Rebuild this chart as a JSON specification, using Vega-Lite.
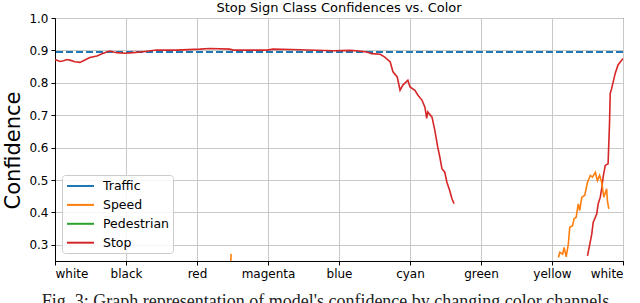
{
  "$schema": "https://vega.github.io/schema/vega-lite/v6.json",
  "width": 568,
  "height": 243,
  "autosize": {"type": "none"},
  "padding": {"left": 55, "top": 18, "right": 17, "bottom": 42},
  "background": "white",
  "title": {"text": "Stop Sign Class Confidences vs. Color", "font": "DejaVu Sans", "fontSize": 13, "fontWeight": "normal", "color": "black", "offset": -13, "baseline": "alphabetic", "frame": "group"},
  "config": {
    "view": {"stroke": "black", "strokeWidth": 1},
    "axis": {"labelFont": "DejaVu Sans", "labelFontSize": 12, "labelColor": "black", "tickColor": "black", "domainColor": "black", "tickSize": 4, "labelPadding": 3, "gridColor": "#c8c8c8", "gridWidth": 1, "labelOverlap": false},
    "legend": {"orient": "none", "legendX": 7, "legendY": 157, "fillColor": "rgba(255,255,255,0.85)", "strokeColor": "#cccccc", "cornerRadius": 3, "padding": 3, "symbolType": "M-2,0H2", "symbolSize": 182, "symbolStrokeWidth": 2, "symbolOffset": 7.5, "labelFont": "DejaVu Sans", "labelFontSize": 12.5, "labelColor": "black", "labelOffset": 14.5, "rowPadding": 3.9}
  },
  "layer": [
    {
      "data": {"values": [{"series": "Traffic", "value": 0.895}]},
      "mark": {"type": "rule", "color": "#1f77b4", "strokeWidth": 2, "strokeDash": [7, 3]},
      "encoding": {
        "y": {"field": "value", "type": "quantitative", "scale": {"domain": [0.25, 1.0], "nice": false, "zero": false},
          "axis": {"values": [0.3, 0.4, 0.5, 0.6, 0.7, 0.8, 0.9, 1.0], "format": ".1f", "labelOverlap": false,
            "title": "Confidence", "titleFont": "DejaVu Sans", "titleFontSize": 21, "titleFontWeight": "normal", "titleColor": "black",
            "titleX": -36, "titleY": 132, "titleAngle": 270, "titleBaseline": "alphabetic", "titleAlign": "center"}}
      }
    },
    {
      "data": {"values": [
        {"series": "Stop", "seg": "a", "x": 0.0, "y": 0.871},
        {"series": "Stop", "seg": "a", "x": 0.02, "y": 0.870},
        {"series": "Stop", "seg": "a", "x": 0.07, "y": 0.866},
        {"series": "Stop", "seg": "a", "x": 0.12, "y": 0.868},
        {"series": "Stop", "seg": "a", "x": 0.17, "y": 0.872},
        {"series": "Stop", "seg": "a", "x": 0.21, "y": 0.870},
        {"series": "Stop", "seg": "a", "x": 0.28, "y": 0.865},
        {"series": "Stop", "seg": "a", "x": 0.35, "y": 0.863},
        {"series": "Stop", "seg": "a", "x": 0.40, "y": 0.868},
        {"series": "Stop", "seg": "a", "x": 0.49, "y": 0.878},
        {"series": "Stop", "seg": "a", "x": 0.59, "y": 0.883},
        {"series": "Stop", "seg": "a", "x": 0.68, "y": 0.891},
        {"series": "Stop", "seg": "a", "x": 0.77, "y": 0.898},
        {"series": "Stop", "seg": "a", "x": 0.87, "y": 0.893},
        {"series": "Stop", "seg": "a", "x": 0.99, "y": 0.891},
        {"series": "Stop", "seg": "a", "x": 1.10, "y": 0.893},
        {"series": "Stop", "seg": "a", "x": 1.24, "y": 0.896},
        {"series": "Stop", "seg": "a", "x": 1.43, "y": 0.901},
        {"series": "Stop", "seg": "a", "x": 1.71, "y": 0.901},
        {"series": "Stop", "seg": "a", "x": 2.04, "y": 0.904},
        {"series": "Stop", "seg": "a", "x": 2.18, "y": 0.906},
        {"series": "Stop", "seg": "a", "x": 2.46, "y": 0.904},
        {"series": "Stop", "seg": "a", "x": 2.51, "y": 0.901},
        {"series": "Stop", "seg": "a", "x": 2.99, "y": 0.901},
        {"series": "Stop", "seg": "a", "x": 3.07, "y": 0.904},
        {"series": "Stop", "seg": "a", "x": 3.45, "y": 0.902},
        {"series": "Stop", "seg": "a", "x": 3.92, "y": 0.899},
        {"series": "Stop", "seg": "a", "x": 4.15, "y": 0.900},
        {"series": "Stop", "seg": "a", "x": 4.25, "y": 0.899},
        {"series": "Stop", "seg": "a", "x": 4.39, "y": 0.895},
        {"series": "Stop", "seg": "a", "x": 4.46, "y": 0.890},
        {"series": "Stop", "seg": "a", "x": 4.58, "y": 0.888},
        {"series": "Stop", "seg": "a", "x": 4.64, "y": 0.880},
        {"series": "Stop", "seg": "a", "x": 4.72, "y": 0.865},
        {"series": "Stop", "seg": "a", "x": 4.76, "y": 0.834},
        {"series": "Stop", "seg": "a", "x": 4.82, "y": 0.818},
        {"series": "Stop", "seg": "a", "x": 4.86, "y": 0.777},
        {"series": "Stop", "seg": "a", "x": 4.90, "y": 0.793},
        {"series": "Stop", "seg": "a", "x": 4.97, "y": 0.808},
        {"series": "Stop", "seg": "a", "x": 5.00, "y": 0.787},
        {"series": "Stop", "seg": "a", "x": 5.07, "y": 0.777},
        {"series": "Stop", "seg": "a", "x": 5.11, "y": 0.762},
        {"series": "Stop", "seg": "a", "x": 5.17, "y": 0.746},
        {"series": "Stop", "seg": "a", "x": 5.21, "y": 0.725},
        {"series": "Stop", "seg": "a", "x": 5.235, "y": 0.690},
        {"series": "Stop", "seg": "a", "x": 5.25, "y": 0.710},
        {"series": "Stop", "seg": "a", "x": 5.31, "y": 0.694},
        {"series": "Stop", "seg": "a", "x": 5.35, "y": 0.653},
        {"series": "Stop", "seg": "a", "x": 5.39, "y": 0.602},
        {"series": "Stop", "seg": "a", "x": 5.42, "y": 0.571},
        {"series": "Stop", "seg": "a", "x": 5.45, "y": 0.535},
        {"series": "Stop", "seg": "a", "x": 5.49, "y": 0.524},
        {"series": "Stop", "seg": "a", "x": 5.52, "y": 0.493},
        {"series": "Stop", "seg": "a", "x": 5.56, "y": 0.467},
        {"series": "Stop", "seg": "a", "x": 5.59, "y": 0.443},
        {"series": "Stop", "seg": "a", "x": 5.62, "y": 0.427},
        {"series": "Stop", "seg": "b", "x": 7.50, "y": 0.266},
        {"series": "Stop", "seg": "b", "x": 7.56, "y": 0.333},
        {"series": "Stop", "seg": "b", "x": 7.58, "y": 0.369},
        {"series": "Stop", "seg": "b", "x": 7.63, "y": 0.395},
        {"series": "Stop", "seg": "b", "x": 7.65, "y": 0.426},
        {"series": "Stop", "seg": "b", "x": 7.68, "y": 0.447},
        {"series": "Stop", "seg": "b", "x": 7.70, "y": 0.473},
        {"series": "Stop", "seg": "b", "x": 7.72, "y": 0.509},
        {"series": "Stop", "seg": "b", "x": 7.75, "y": 0.545},
        {"series": "Stop", "seg": "b", "x": 7.79, "y": 0.550},
        {"series": "Stop", "seg": "b", "x": 7.81, "y": 0.674},
        {"series": "Stop", "seg": "b", "x": 7.82, "y": 0.767},
        {"series": "Stop", "seg": "b", "x": 7.84, "y": 0.782},
        {"series": "Stop", "seg": "b", "x": 7.89, "y": 0.829},
        {"series": "Stop", "seg": "b", "x": 7.93, "y": 0.855},
        {"series": "Stop", "seg": "b", "x": 8.0, "y": 0.875},
        {"series": "Speed", "seg": "c", "x": 2.475, "y": 0.245},
        {"series": "Speed", "seg": "c", "x": 2.48, "y": 0.272},
        {"series": "Speed", "seg": "d", "x": 7.09, "y": 0.261},
        {"series": "Speed", "seg": "d", "x": 7.11, "y": 0.277},
        {"series": "Speed", "seg": "d", "x": 7.15, "y": 0.271},
        {"series": "Speed", "seg": "d", "x": 7.17, "y": 0.292},
        {"series": "Speed", "seg": "d", "x": 7.20, "y": 0.263},
        {"series": "Speed", "seg": "d", "x": 7.23, "y": 0.302},
        {"series": "Speed", "seg": "d", "x": 7.25, "y": 0.354},
        {"series": "Speed", "seg": "d", "x": 7.29, "y": 0.359},
        {"series": "Speed", "seg": "d", "x": 7.31, "y": 0.380},
        {"series": "Speed", "seg": "d", "x": 7.34, "y": 0.385},
        {"series": "Speed", "seg": "d", "x": 7.37, "y": 0.426},
        {"series": "Speed", "seg": "d", "x": 7.39, "y": 0.406},
        {"series": "Speed", "seg": "d", "x": 7.42, "y": 0.447},
        {"series": "Speed", "seg": "d", "x": 7.46, "y": 0.452},
        {"series": "Speed", "seg": "d", "x": 7.50, "y": 0.493},
        {"series": "Speed", "seg": "d", "x": 7.54, "y": 0.514},
        {"series": "Speed", "seg": "d", "x": 7.57, "y": 0.509},
        {"series": "Speed", "seg": "d", "x": 7.61, "y": 0.524},
        {"series": "Speed", "seg": "d", "x": 7.64, "y": 0.498},
        {"series": "Speed", "seg": "d", "x": 7.67, "y": 0.514},
        {"series": "Speed", "seg": "d", "x": 7.70, "y": 0.493},
        {"series": "Speed", "seg": "d", "x": 7.73, "y": 0.447},
        {"series": "Speed", "seg": "d", "x": 7.77, "y": 0.473},
        {"series": "Speed", "seg": "d", "x": 7.78, "y": 0.437},
        {"series": "Speed", "seg": "d", "x": 7.80, "y": 0.411}
      ]},
      "mark": {"type": "line", "strokeWidth": 1.6, "clip": true},
      "encoding": {
        "x": {"field": "x", "type": "quantitative",
          "scale": {"domain": [0, 8], "nice": false, "zero": false},
          "axis": {"values": [0, 1, 2, 3, 4, 5, 6, 7, 8],
            "labelExpr": "['white','black','red','magenta','blue','cyan','green','yellow','white'][datum.value]",
            "title": "Fig. 3: Graph representation of model's confidence by changing color channels",
            "titleFont": "Liberation Serif", "titleFontSize": 18, "titleFontWeight": "normal", "titleColor": "#222222",
            "titleX": 270, "titleY": 45, "titleBaseline": "alphabetic", "titleAlign": "center"}},
        "y": {"field": "y", "type": "quantitative",
          "scale": {"domain": [0.25, 1.0], "nice": false, "zero": false},
          "axis": {"values": [0.3, 0.4, 0.5, 0.6, 0.7, 0.8, 0.9, 1.0], "format": ".1f", "labelOverlap": false,
            "title": "Confidence", "titleFont": "DejaVu Sans", "titleFontSize": 21, "titleFontWeight": "normal", "titleColor": "black",
            "titleX": -36, "titleY": 132, "titleAngle": 270, "titleBaseline": "alphabetic", "titleAlign": "center"}},
        "color": {"field": "series", "type": "nominal",
          "scale": {"domain": ["Traffic", "Speed", "Pedestrian", "Stop"], "range": ["#1f77b4", "#ff7f0e", "#2ca02c", "#d62728"]},
          "legend": {"title": null}},
        "detail": {"field": "seg", "type": "nominal"}
      }
    }
  ]
}
